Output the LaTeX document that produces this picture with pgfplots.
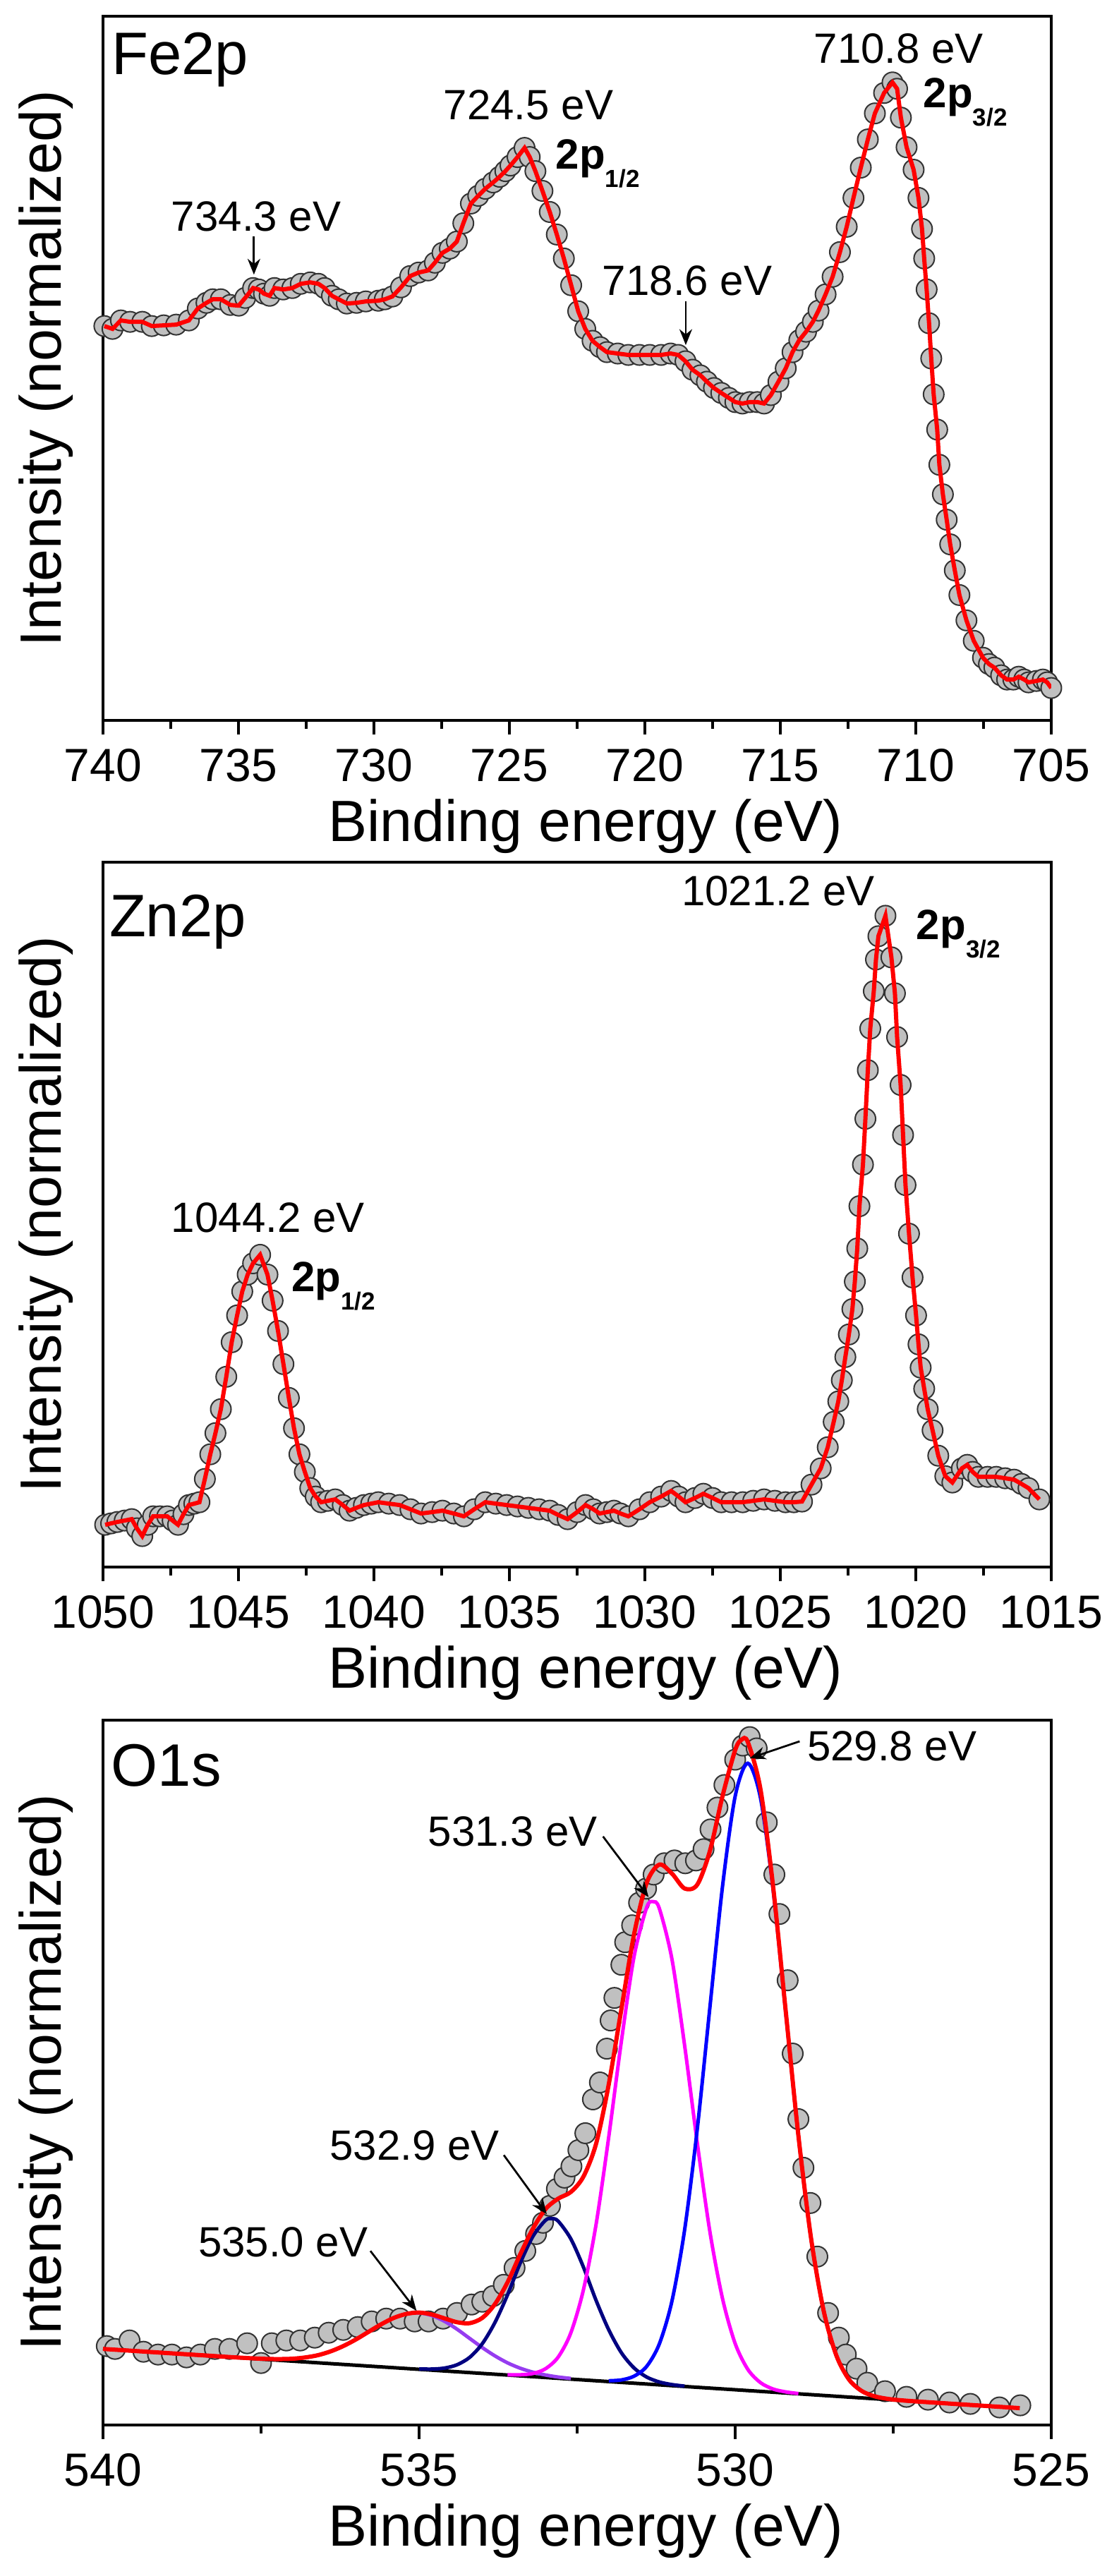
\documentclass[border=0pt]{standalone}
\usepackage{fontspec}
\setmainfont{Liberation Sans}
\usepackage{pgfplots}
\usepackage{pgfplotstable}
\pgfplotsset{compat=1.18}
\usetikzlibrary{arrows.meta}

\definecolor{ptfill}{RGB}{192,192,192}
\definecolor{violetc}{RGB}{150,60,240}
\definecolor{navyc}{RGB}{0,0,128}
\definecolor{magc}{RGB}{255,0,255}
\definecolor{bluec}{RGB}{0,0,255}
\definecolor{redc}{RGB}{255,0,0}

\pgfplotstableread{
x y
739.95 0.560
739.65 0.556
739.34 0.568
739.00 0.566
738.55 0.566
738.20 0.560
737.76 0.561
737.30 0.562
736.83 0.568
736.50 0.585
736.18 0.593
735.95 0.598
735.65 0.598
735.30 0.590
734.99 0.589
734.75 0.600
734.46 0.614
734.25 0.612
734.06 0.606
733.85 0.603
733.67 0.614
733.35 0.612
733.01 0.614
732.70 0.620
732.35 0.622
732.05 0.620
731.82 0.614
731.55 0.603
731.30 0.598
731.00 0.592
730.64 0.593
730.30 0.595
729.84 0.596
729.60 0.598
729.32 0.602
729.00 0.615
728.66 0.631
728.35 0.636
728.00 0.639
727.75 0.650
727.47 0.664
727.20 0.670
726.94 0.680
726.70 0.706
726.42 0.734
726.15 0.745
725.89 0.755
725.60 0.764
725.36 0.772
725.15 0.780
724.96 0.788
724.70 0.800
724.44 0.813
724.25 0.800
724.04 0.780
723.78 0.752
723.51 0.722
723.25 0.690
722.99 0.656
722.72 0.618
722.46 0.581
722.20 0.556
721.93 0.539
721.65 0.530
721.40 0.523
721.00 0.521
720.61 0.519
720.20 0.519
719.82 0.519
719.40 0.519
719.05 0.521
718.77 0.519
718.50 0.510
718.24 0.498
717.95 0.490
717.71 0.481
717.45 0.472
717.18 0.465
716.90 0.458
716.66 0.452
716.40 0.450
716.13 0.452
715.85 0.452
715.60 0.450
715.35 0.462
715.07 0.481
714.80 0.500
714.55 0.523
714.30 0.540
714.05 0.552
713.80 0.566
713.59 0.582
713.33 0.605
713.07 0.630
712.80 0.665
712.55 0.701
712.30 0.742
712.03 0.785
711.77 0.825
711.51 0.862
711.17 0.891
710.86 0.906
710.69 0.897
710.55 0.856
710.34 0.814
710.08 0.782
709.90 0.742
709.77 0.698
709.69 0.656
709.60 0.612
709.51 0.564
709.43 0.514
709.34 0.463
709.21 0.413
709.13 0.363
709.00 0.321
708.86 0.285
708.73 0.250
708.56 0.213
708.39 0.178
708.13 0.142
707.86 0.113
707.52 0.089
707.30 0.080
707.10 0.075
706.85 0.064
706.63 0.058
706.40 0.058
706.20 0.062
706.00 0.058
705.84 0.054
705.55 0.056
705.31 0.058
705.15 0.054
705.00 0.046
}\fedata

\pgfplotstableread{
x y
1049.92 0.060
1049.70 0.062
1049.47 0.064
1049.20 0.066
1048.94 0.068
1048.75 0.055
1048.55 0.044
1048.35 0.060
1048.15 0.072
1047.90 0.072
1047.63 0.072
1047.43 0.066
1047.23 0.060
1047.03 0.075
1046.83 0.088
1046.63 0.090
1046.44 0.092
1046.24 0.125
1046.04 0.160
1045.85 0.190
1045.65 0.224
1045.45 0.270
1045.25 0.319
1045.05 0.357
1044.86 0.391
1044.66 0.415
1044.46 0.431
1044.20 0.443
1043.93 0.415
1043.74 0.378
1043.54 0.335
1043.34 0.288
1043.14 0.240
1042.95 0.197
1042.75 0.160
1042.55 0.135
1042.35 0.112
1042.15 0.100
1041.95 0.092
1041.70 0.094
1041.43 0.096
1041.15 0.088
1040.90 0.080
1040.65 0.084
1040.37 0.088
1040.10 0.090
1039.84 0.092
1039.45 0.090
1039.05 0.088
1038.65 0.082
1038.26 0.076
1037.85 0.078
1037.47 0.080
1037.05 0.076
1036.68 0.072
1036.30 0.082
1035.89 0.092
1035.50 0.090
1035.10 0.088
1034.70 0.086
1034.30 0.084
1033.90 0.082
1033.51 0.080
1033.20 0.074
1032.85 0.068
1032.50 0.078
1032.19 0.088
1031.90 0.082
1031.67 0.076
1031.40 0.078
1031.14 0.080
1030.90 0.076
1030.61 0.072
1030.20 0.082
1029.82 0.092
1029.40 0.100
1029.03 0.108
1028.75 0.100
1028.50 0.092
1028.15 0.098
1027.84 0.104
1027.50 0.098
1027.18 0.092
1026.80 0.092
1026.39 0.092
1026.00 0.094
1025.60 0.096
1025.20 0.094
1024.81 0.092
1024.50 0.092
1024.20 0.093
1023.85 0.117
1023.51 0.140
1023.25 0.170
1023.03 0.206
1022.86 0.235
1022.73 0.265
1022.60 0.298
1022.47 0.330
1022.34 0.366
1022.25 0.405
1022.16 0.452
1022.08 0.512
1021.95 0.571
1021.86 0.636
1021.77 0.705
1021.68 0.764
1021.55 0.817
1021.47 0.862
1021.38 0.895
1021.12 0.924
1020.90 0.865
1020.77 0.814
1020.69 0.752
1020.56 0.684
1020.47 0.613
1020.38 0.542
1020.25 0.473
1020.12 0.411
1019.99 0.357
1019.90 0.316
1019.82 0.283
1019.69 0.253
1019.56 0.224
1019.38 0.194
1019.17 0.158
1018.91 0.129
1018.65 0.120
1018.30 0.140
1018.10 0.145
1017.90 0.135
1017.69 0.128
1017.35 0.128
1017.03 0.128
1016.70 0.126
1016.37 0.124
1016.10 0.118
1015.84 0.112
1015.44 0.096
}\zndata

\pgfplotstableread{
x y
539.94 0.112
539.81 0.108
539.58 0.120
539.36 0.104
539.13 0.100
538.91 0.100
538.68 0.096
538.46 0.100
538.23 0.108
538.00 0.108
537.72 0.116
537.50 0.088
537.33 0.116
537.10 0.120
536.88 0.120
536.65 0.124
536.43 0.131
536.20 0.135
535.97 0.139
535.75 0.147
535.52 0.151
535.30 0.151
535.07 0.147
534.85 0.147
534.62 0.151
534.40 0.159
534.17 0.171
534.00 0.175
533.83 0.183
533.66 0.199
533.49 0.223
533.32 0.247
533.15 0.271
533.04 0.287
532.93 0.311
532.82 0.335
532.70 0.351
532.59 0.367
532.48 0.390
532.37 0.414
532.25 0.462
532.14 0.486
532.03 0.534
531.97 0.574
531.91 0.606
531.80 0.653
531.74 0.685
531.63 0.709
531.52 0.741
531.41 0.761
531.29 0.781
531.12 0.797
530.96 0.801
530.79 0.797
530.62 0.801
530.50 0.817
530.39 0.845
530.28 0.876
530.17 0.908
530.00 0.944
529.88 0.964
529.77 0.976
529.66 0.960
529.50 0.855
529.38 0.781
529.30 0.725
529.17 0.631
529.09 0.527
529.00 0.434
528.92 0.365
528.81 0.315
528.70 0.239
528.53 0.159
528.36 0.124
528.25 0.100
528.08 0.080
527.91 0.060
527.63 0.048
527.29 0.040
526.95 0.036
526.61 0.032
526.28 0.030
525.82 0.025
525.49 0.028
}\odata

\pgfplotstableread{
x y
540.0 0.1080
539.5 0.1051
539.0 0.1022
538.5 0.0994
538.0 0.0965
537.6 0.0945
537.4 0.0938
537.2 0.0936
537.0 0.0941
536.8 0.0959
536.6 0.0991
536.4 0.1045
536.2 0.1120
536.0 0.1214
535.8 0.1322
535.6 0.1429
535.4 0.1520
535.2 0.1577
535.0 0.1596
534.8 0.1569
534.6 0.1514
534.4 0.1459
534.2 0.1445
534.0 0.1520
533.8 0.1716
533.6 0.2026
533.4 0.2421
533.2 0.2785
533.0 0.3064
532.8 0.3212
532.6 0.3306
532.4 0.3525
532.2 0.3991
532.0 0.4832
531.8 0.5901
531.6 0.6959
531.4 0.7691
531.2 0.7951
531.0 0.7824
530.8 0.7612
530.6 0.7666
530.4 0.8144
530.2 0.8923
530.0 0.9576
529.9 0.9722
529.8 0.9690
529.6 0.9022
529.4 0.7641
529.2 0.5870
529.0 0.4107
528.8 0.2652
528.6 0.1620
528.4 0.0988
528.2 0.0647
528.0 0.0484
527.8 0.0409
527.6 0.0373
527.4 0.0353
527.2 0.0339
527.0 0.0327
526.5 0.0298
526.0 0.0269
525.5 0.0240
}\ofit

\pgfplotstableread{
x y
532.0 0.0628
531.8 0.0640
531.6 0.0693
531.4 0.0832
531.2 0.1150
531.0 0.1759
530.8 0.2767
530.6 0.4196
530.4 0.5924
530.2 0.7643
530.0 0.8921
529.8 0.9389
529.6 0.8898
529.4 0.7596
529.2 0.5855
529.0 0.4103
528.8 0.2652
528.6 0.1620
528.4 0.0988
528.2 0.0647
528.0 0.0484
527.8 0.0409
527.6 0.0373
}\oblue

\pgfplotstableread{
x y
533.6 0.0713
533.4 0.0713
533.2 0.0731
533.0 0.0799
532.8 0.0964
532.6 0.1307
532.4 0.1920
532.2 0.2848
532.0 0.4087
531.8 0.5445
531.6 0.6644
531.4 0.7342
531.3 0.7426
531.2 0.7330
531.0 0.6609
530.8 0.5387
530.6 0.4006
530.4 0.2744
530.2 0.1793
530.0 0.1156
529.8 0.0790
529.6 0.0602
529.4 0.0511
529.2 0.0470
529.0 0.0447
}\omag

\pgfplotstableread{
x y
535.0 0.0796
534.8 0.0794
534.6 0.0808
534.4 0.0855
534.2 0.0960
534.0 0.1154
533.8 0.1455
533.6 0.1849
533.4 0.2298
533.2 0.2676
533.0 0.2905
532.9 0.2929
532.8 0.2893
532.6 0.2642
532.4 0.2240
532.2 0.1768
532.0 0.1351
531.8 0.1026
531.6 0.0810
531.4 0.0681
531.2 0.0611
531.0 0.0574
530.8 0.0552
}\onavy

\pgfplotstableread{
x y
537.6 0.0945
537.4 0.0938
537.2 0.0936
537.0 0.0941
536.8 0.0959
536.6 0.0991
536.4 0.1045
536.2 0.1120
536.0 0.1214
535.8 0.1322
535.6 0.1429
535.4 0.1520
535.2 0.1577
535.0 0.1591
534.8 0.1554
534.6 0.1473
534.4 0.1360
534.2 0.1229
534.0 0.1099
533.8 0.0981
533.6 0.0882
533.4 0.0806
533.2 0.0750
533.0 0.0710
532.8 0.0681
532.6 0.0661
}\oviolet

\pgfplotstableread{
x y
540.0 0.1080
525.5 0.0240
}\obg

\pgfplotsset{
  xpsstyle/.style={
    scale only axis, width=268.8pt, anchor=south west,
    x dir=reverse, ymin=0, ymax=1, ytick=\empty,
    xtick pos=lower, tick align=outside,
    major tick length=4pt, minor tick length=2.4pt,
    minor x tick num=1,
    tick style={line width=0.7pt, black},
    axis line style={line width=0.7pt},
    clip mode=individual,
    /pgf/number format/assume math mode=true,
    /pgf/number format/1000 sep={},
    xticklabel style={font=\fontsize{13.2}{15}\selectfont, anchor=base, yshift=-13.2pt},
    xlabel={Binding energy (eV)},
    ylabel={Intensity (normalized)},
    xlabel style={font=\fontsize{16.5}{19}\selectfont, at={(axis description cs:0.509,-0.172)}, anchor=base},
    ylabel style={font=\fontsize{16.5}{19}\selectfont, at={(axis description cs:-0.060,0.5)}, anchor=center},
  },
  datamark/.style={only marks, mark=*, mark size=2.9pt,
    mark options={fill=ptfill, draw=black!80, line width=0.4pt}},
  fitline/.style={redc, line width=1.2pt, no marks},
  comp/.style={line width=1.0pt, no marks, smooth},
}
\tikzset{
  ann/.style={anchor=base west, inner sep=0pt, font=\fontsize{12}{14}\selectfont},
  annE/.style={anchor=base east, inner sep=0pt, font=\fontsize{12}{14}\selectfont},
  plab/.style={anchor=base west, inner sep=0pt, font=\fontsize{17}{20}\selectfont},
  orb/.style={anchor=base west, inner sep=0pt, font=\bfseries\fontsize{12}{14}\selectfont},
  arr/.style={-{Stealth[length=4.5pt,width=3.6pt]}, line width=0.55pt, black},
}
\newcommand{\orbital}[1]{2p\raisebox{-5.2pt}{\fontsize{7}{8}\selectfont #1}}

\begin{document}
\begin{tikzpicture}
\path[use as bounding box] (0,0) rectangle (317.2pt,-730.2pt);

% ---------------- Fe2p ----------------
\begin{axis}[xpsstyle, at={(29.2pt,-204.2pt)}, height=199.6pt,
  xmin=705, xmax=740, xtick={705,710,...,740}]
\addplot[datamark] table {\fedata};
\addplot[fitline] table {\fedata};
\node[plab] at (axis cs:739.71,0.917) {Fe2p};
\node[ann] at (axis cs:727.45,0.853) {724.5 eV};
\node[orb] at (axis cs:723.31,0.783) {\orbital{1/2}};
\node[ann] at (axis cs:737.50,0.695) {734.3 eV};
\draw[arr] (axis cs:734.43,0.687) -- (axis cs:734.43,0.633);
\node[ann] at (axis cs:721.59,0.604) {718.6 eV};
\draw[arr] (axis cs:718.49,0.595) -- (axis cs:718.49,0.533);
\node[ann] at (axis cs:713.78,0.933) {710.8 eV};
\node[orb] at (axis cs:709.74,0.870) {\orbital{3/2}};
\end{axis}

% ---------------- Zn2p ----------------
\begin{axis}[xpsstyle, at={(29.2pt,-444.2pt)}, height=199.8pt,
  xmin=1015, xmax=1050, xtick={1015,1020,...,1050}]
\addplot[datamark] table {\zndata};
\addplot[fitline] table {\zndata};
\node[plab] at (axis cs:1049.79,0.894) {Zn2p};
\node[ann] at (axis cs:1028.67,0.938) {1021.2 eV};
\node[orb] at (axis cs:1020.0,0.890) {\orbital{3/2}};
\node[ann] at (axis cs:1047.50,0.475) {1044.2 eV};
\node[orb] at (axis cs:1043.07,0.391) {\orbital{1/2}};
\end{axis}

% ---------------- O1s ----------------
\begin{axis}[xpsstyle, at={(29.2pt,-687.4pt)}, height=199.8pt,
  xmin=525, xmax=540, xtick={525,530,535,540}]
\addplot[datamark] table {\odata};
\addplot[black, line width=1.0pt, no marks] table {\obg};
\addplot[comp, violetc] table {\oviolet};
\addplot[comp, navyc] table {\onavy};
\addplot[comp, magc] table {\omag};
\addplot[comp, bluec] table {\oblue};
\addplot[fitline, smooth] table {\ofit};
\node[plab] at (axis cs:539.88,0.906) {O1s};
\node[ann] at (axis cs:528.87,0.942) {529.8 eV};
\draw[arr] (axis cs:528.98,0.970) -- (axis cs:529.77,0.946);
\node[annE] at (axis cs:532.165,0.821) {531.3 eV};
\draw[arr] (axis cs:532.09,0.835) -- (axis cs:531.37,0.749);
\node[annE] at (axis cs:533.72,0.376) {532.9 eV};
\draw[arr] (axis cs:533.66,0.383) -- (axis cs:532.98,0.299);
\node[annE] at (axis cs:535.80,0.239) {535.0 eV};
\draw[arr] (axis cs:535.77,0.247) -- (axis cs:535.04,0.162);
\end{axis}
\end{tikzpicture}
\end{document}
